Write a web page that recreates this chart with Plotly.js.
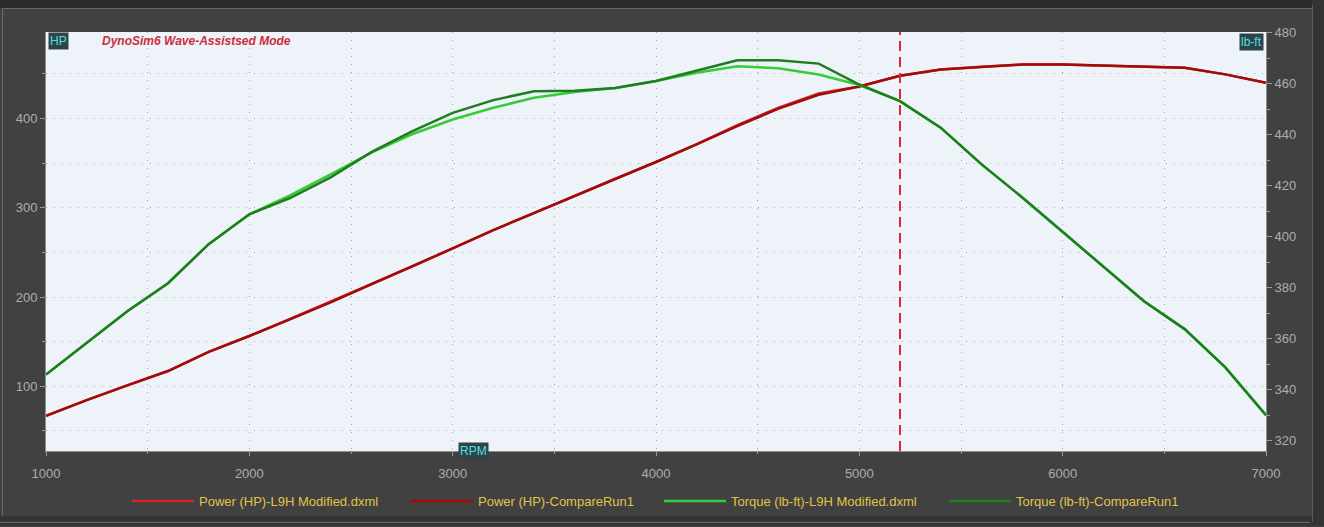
<!DOCTYPE html>
<html>
<head>
<meta charset="utf-8">
<script src="https://cdn.plot.ly/plotly-3.0.1.min.js"></script>
<style>
html,body{margin:0;padding:0;background:#414141;overflow:hidden}
#chart{width:1324px;height:527px}
</style>
</head>
<body>
<div id="chart"></div>
<script>
// ---- data ----
const rpm = [1000,1200,1400,1600,1800,2000,2200,2400,2600,2800,3000,3200,3400,3600,3800,4000,4200,4400,4600,4800,5000,5200,5400,5600,5800,6000,6200,6400,6600,6800,7000];
const powerModified = [66.8,84.5,101,117,138.5,156.3,175.5,194.8,214.5,234,254.5,275,294,313.6,332.5,351.3,371.3,392.6,412,428,436,448,455,458,460.5,460.5,459.5,458.6,456.8,449.5,440];
const powerCompare  = [66.8,84.5,101,117,138.5,156.3,175,194,214.3,234,254.5,275,294,313.6,332.5,351.3,371,391.5,410.8,426.6,436,448,455,458,460.5,460.5,459.5,458.6,456.8,449.5,440];
const torqueModified = [346,358.5,370.8,381.8,397.1,408.8,416.2,424.5,433,440.2,446,450.6,454.5,456.8,458.3,461.1,464.3,466.9,466.1,463.6,459.5,453.2,442.8,428.5,415.5,402,388.3,374.7,363.8,348.8,330];
const torqueCompare  = [346,358.5,370.8,381.8,397.1,408.8,415.2,423.3,433.2,441.3,448.6,453.6,457.1,457.3,458.3,461.1,465.2,469.2,469.2,467.9,459.7,453.2,442.8,428.5,415.5,402,388.3,374.7,363.8,348.8,330];
const seriesNames = ["Power (HP)-L9H Modified.dxml","Power (HP)-CompareRun1","Torque (lb-ft)-L9H Modified.dxml","Torque (lb-ft)-CompareRun1"];
const cursorRpm = 5200;
const xTicks = [1000,2000,3000,4000,5000,6000,7000];
const hpTicks = [100,200,300,400];
const torqueTicks = [320,340,360,380,400,420,440,460,480];
const titleText = "DynoSim6 Wave-Assistsed Mode";
const hpLabel = "HP", torqueLabel = "lb-ft", rpmLabel = "RPM";

// ---- layout geometry (pixels) ----
const W = 1324, H = 527, L = 46, R = 1266, T = 32, B = 452;
const px = v => (v - L) / (R - L);
const py = v => (B - v) / (B - T);

const colors = ['#d42626', '#a00c0c', '#36cc36', '#1e7d1e'];
const grid = {gridcolor:'#a4a4a4', griddash:'1px,7px', gridwidth:1};
const legendIds = ['legend', 'legend2', 'legend3', 'legend4'];
const legendX = [127, 406, 659, 944];

const traces = [
  {x: rpm, y: powerModified, yaxis: 'y'},
  {x: rpm, y: powerCompare, yaxis: 'y'},
  {x: rpm, y: torqueModified, yaxis: 'y2'},
  {x: rpm, y: torqueCompare, yaxis: 'y2'}
].map((t, i) => Object.assign({type:'scatter', mode:'lines', hoverinfo:'skip', name: seriesNames[i],
  legend: legendIds[i], line:{color:colors[i], width:2.5}}, t));

const layout = {
  width: W, height: H,
  margin: {l: L, r: W - R, t: T, b: H - B, pad: 0},
  paper_bgcolor: '#414141',
  plot_bgcolor: '#eef2f9',
  font: {family: 'Liberation Sans, Arial, sans-serif', size: 13, color: '#adadad'},
  showlegend: true,
  xaxis: Object.assign({
    range: [1000, 7000], tickmode: 'array', tickvals: xTicks,
    ticks: 'outside', ticklen: 4, tickcolor: '#9a9a9a',
    showgrid: true, zeroline: false, showline: true, linecolor: '#8e8e8e', linewidth: 1,
    ticklabelstandoff: 6,
    minor: Object.assign({tick0: 1000, dtick: 500, showgrid: true, ticks: 'outside', ticklen: 2, tickcolor: '#9a9a9a'}, grid)
  }, grid),
  yaxis: Object.assign({
    range: [27.4, 497], tickmode: 'array', tickvals: hpTicks,
    ticks: 'outside', ticklen: 5, tickcolor: '#9a9a9a',
    showgrid: true, zeroline: false, showline: true, linecolor: '#8e8e8e', linewidth: 1,
    minor: Object.assign({tick0: 0, dtick: 50, showgrid: true, ticks: 'outside', ticklen: 3, tickcolor: '#9a9a9a'}, grid)
  }, grid),
  yaxis2: {
    overlaying: 'y', side: 'right', range: [316, 480.3], tickmode: 'array', tickvals: torqueTicks,
    ticks: 'outside', ticklen: 5, tickcolor: '#9a9a9a',
    showgrid: false, zeroline: false, showline: true, linecolor: '#8e8e8e', linewidth: 1,
    minor: {tick0: 0, dtick: 10, ticks: 'outside', ticklen: 3, tickcolor: '#9a9a9a', showgrid: false}
  },
  shapes: [
    // frame
    {type:'rect', xref:'paper', yref:'paper', x0:px(0), x1:px(W), y0:py(0), y1:py(8), fillcolor:'#2b2b2b', line:{width:0}, layer:'below'},
    {type:'rect', xref:'paper', yref:'paper', x0:px(1312), x1:px(W), y0:py(0), y1:py(H), fillcolor:'#333333', line:{width:0}, layer:'below'},
    {type:'rect', xref:'paper', yref:'paper', x0:px(0), x1:px(W), y0:py(517), y1:py(H), fillcolor:'#343434', line:{width:0}, layer:'below'},
    {type:'line', xref:'paper', yref:'paper', x0:px(2.5), x1:px(2.5), y0:py(8.5), y1:py(517), line:{color:'#6a6a6a', width:1}, layer:'below'},
    {type:'line', xref:'paper', yref:'paper', x0:px(2.5), x1:px(1312), y0:py(8.5), y1:py(8.5), line:{color:'#6a6a6a', width:1}, layer:'below'},
    {type:'line', xref:'paper', yref:'paper', x0:px(0), x1:px(1310), y0:py(523.5), y1:py(523.5), line:{color:'#707070', width:1}, layer:'below'},
    {type:'line', xref:'paper', yref:'paper', x0:px(1312.5), x1:px(1312.5), y0:py(5), y1:py(523), line:{color:'#5a5a5a', width:1}, layer:'below'},
    // cursor
    {type:'line', xref:'x', yref:'paper', x0:cursorRpm, x1:cursorRpm, y0:0, y1:1, line:{color:'#e02828', width:2, dash:'10px,6px'}}
  ],
  annotations: [
    {text: hpLabel, xref:'paper', yref:'paper', x:px(48), y:py(32), xanchor:'left', yanchor:'top', showarrow:false,
     bgcolor:'#2e4448', borderpad:1, font:{size:12, color:'#4fe0e0'}},
    {text: torqueLabel, xref:'paper', yref:'paper', x:px(1264), y:py(33), xanchor:'right', yanchor:'top', showarrow:false,
     bgcolor:'#2e4448', borderpad:1, font:{size:12, color:'#4fe0e0'}},
    {text: rpmLabel, xref:'paper', yref:'paper', x:px(473), y:py(452), xanchor:'center', yanchor:'middle', showarrow:false,
     bgcolor:'#2e4448', borderpad:1, font:{size:12, color:'#4fe0e0'}},
    {text: '<b><i>' + titleText + '</i></b>', xref:'paper', yref:'paper', x:px(100), y:py(41), xanchor:'left', yanchor:'middle', showarrow:false,
     font:{size:12, color:'#cc2e3c'}}
  ]
};

legendIds.forEach((id, i) => {
  layout[id] = {
    orientation: 'h', x: px(legendX[i]), xanchor: 'left', y: py(501), yanchor: 'middle',
    font: {size: 13, color: '#e0c44a'}, bgcolor: 'rgba(0,0,0,0)', itemwidth: 62
  };
});

Plotly.newPlot('chart', traces, layout, {displayModeBar:false, staticPlot:true});
</script>
</body>
</html>
